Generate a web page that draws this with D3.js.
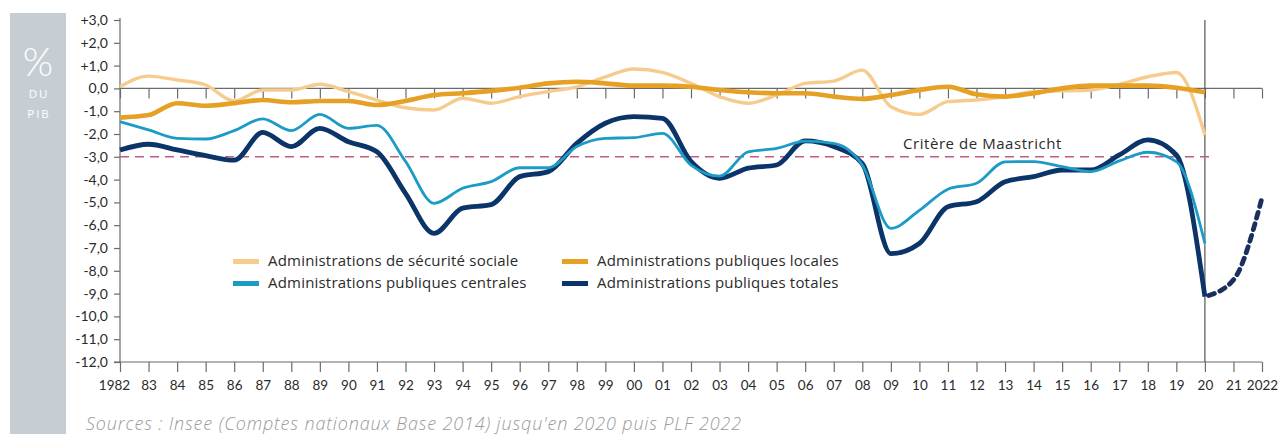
<!DOCTYPE html>
<html>
<head>
<meta charset="utf-8">
<script src="https://cdn.jsdelivr.net/npm/d3@7"></script>
<style>
  html, body { margin: 0; padding: 0; background: #fff; }
  svg { display: block; font-family: Lato, "Open Sans", sans-serif; }
</style>
</head>
<body>
<div id="chart"></div>
<script>
// --- Data (solde en % du PIB) ---
const years = [1982, 1983, 1984, 1985, 1986, 1987, 1988, 1989, 1990, 1991,
               1992, 1993, 1994, 1995, 1996, 1997, 1998, 1999, 2000, 2001,
               2002, 2003, 2004, 2005, 2006, 2007, 2008, 2009, 2010, 2011,
               2012, 2013, 2014, 2015, 2016, 2017, 2018, 2019, 2020];

const secuSociale = [0.07, 0.54, 0.37, 0.15, -0.55, -0.07, -0.07, 0.18, -0.14, -0.51,
                     -0.85, -0.95, -0.43, -0.65, -0.36, -0.14, 0.07, 0.51, 0.85, 0.7,
                     0.22, -0.36, -0.65, -0.29, 0.22, 0.32, 0.8, -0.8, -1.14, -0.58,
                     -0.51, -0.36, -0.14, -0.11, -0.07, 0.18, 0.51, 0.7, -2.04];

const locales = [-1.28, -1.17, -0.65, -0.76, -0.65, -0.51, -0.61, -0.55, -0.55, -0.73,
                 -0.55, -0.29, -0.21, -0.11, 0.03, 0.22, 0.29, 0.22, 0.12, 0.12,
                 0.07, -0.07, -0.17, -0.21, -0.21, -0.36, -0.46, -0.29, -0.07, 0.07,
                 -0.26, -0.36, -0.21, 0.0, 0.12, 0.12, 0.12, 0.03, -0.17];

const centrales = [-1.46, -1.82, -2.19, -2.22, -1.85, -1.34, -1.85, -1.14, -1.75, -1.62,
                   -3.2, -5.04, -4.38, -4.09, -3.48, -3.48, -2.55, -2.19, -2.16, -1.97,
                   -3.36, -3.85, -2.78, -2.63, -2.31, -2.41, -3.36, -6.14, -5.35, -4.42,
                   -4.16, -3.22, -3.21, -3.43, -3.65, -3.18, -2.8, -3.21, -6.8];

const totales = [-2.7, -2.45, -2.7, -2.95, -3.15, -1.93, -2.55, -1.75, -2.34, -2.78,
                 -4.6, -6.36, -5.25, -5.1, -3.87, -3.65, -2.41, -1.53, -1.24, -1.31,
                 -3.2, -3.94, -3.5, -3.36, -2.3, -2.55, -3.3, -7.25, -6.8, -5.19,
                 -4.97, -4.09, -3.87, -3.58, -3.58, -2.92, -2.26, -2.92, -9.13];

// prévision PLF 2022
const projYears = [2020, 2021, 2022];
const projTotales = [-9.13, -8.4, -4.8];

const maastricht = -3;

const yTicks = [3, 2, 1, 0, -1, -2, -3, -4, -5, -6, -7, -8, -9, -10, -11, -12];
const yTickLabels = ["+3,0", "+2,0", "+1,0", "0,0", "-1,0", "-2,0", "-3,0", "-4,0", "-5,0",
                     "-6,0", "-7,0", "-8,0", "-9,0", "-10,0", "-11,0", "-12,0"];
const xTicks = [1982, 1983, 1984, 1985, 1986, 1987, 1988, 1989, 1990, 1991, 1992, 1993, 1994,
                1995, 1996, 1997, 1998, 1999, 2000, 2001, 2002, 2003, 2004, 2005, 2006, 2007,
                2008, 2009, 2010, 2011, 2012, 2013, 2014, 2015, 2016, 2017, 2018, 2019, 2020,
                2021, 2022];
const xTickLabels = ["1982", "83", "84", "85", "86", "87", "88", "89", "90", "91", "92", "93",
                     "94", "95", "96", "97", "98", "99", "00", "01", "02", "03", "04", "05",
                     "06", "07", "08", "09", "10", "11", "12", "13", "14", "15", "16", "17",
                     "18", "19", "20", "21", "2022"];

const seriesNames = ["Administrations de sécurité sociale", "Administrations publiques locales",
                     "Administrations publiques centrales", "Administrations publiques totales"];

// --- Setup ---
const width = 1284, height = 434;
const svg = d3.select("#chart").append("svg")
    .attr("width", width)
    .attr("height", height);

const x = d3.scaleLinear().domain([1982, 2022]).range([120, 1262]);
const y = d3.scaleLinear().domain([3, -12]).range([20, 362]);

const colors = {
    secu: "#f6cb8e",
    locales: "#e6a024",
    centrales: "#1c9bc6",
    totales: "#0b3468"
};
const textFont = "'Open Sans', Lato, sans-serif";

// --- Left grey band "% du PIB" ---
svg.append("rect")
    .attr("x", 10).attr("y", 13)
    .attr("width", 56).attr("height", height - 13)
    .attr("fill", "#c6ced4");

svg.append("text")
    .attr("x", 38).attr("y", 76)
    .attr("text-anchor", "middle")
    .attr("fill", "#fff")
    .style("font-size", "39px")
    .style("font-weight", 300)
    .text("%");

svg.append("text")
    .attr("x", 39).attr("y", 98)
    .attr("text-anchor", "middle")
    .attr("fill", "#fff")
    .style("font-family", textFont)
    .style("font-size", "11.5px")
    .style("letter-spacing", "2px")
    .text("DU");

svg.append("text")
    .attr("x", 39).attr("y", 118)
    .attr("text-anchor", "middle")
    .attr("fill", "#fff")
    .style("font-family", textFont)
    .style("font-size", "11.5px")
    .style("letter-spacing", "2px")
    .text("PIB");

// --- Axes ---
const axisColor = "#6b6b6b";

const yAxis = svg.append("g")
    .attr("transform", `translate(${x(1982)},0)`)
    .call(d3.axisLeft(y).tickValues(yTicks).tickSize(6).tickPadding(6)
        .tickFormat((d, i) => yTickLabels[i]));

const xAxis = svg.append("g")
    .attr("transform", `translate(0,${y(-12)})`)
    .call(d3.axisBottom(x).tickValues(xTicks).tickSize(10).tickPadding(8)
        .tickFormat((d, i) => xTickLabels[i]));

// zero line with its own ticks
const zeroAxis = svg.append("g")
    .attr("transform", `translate(0,${y(0)})`)
    .call(d3.axisBottom(x).tickValues(xTicks).tickSize(10).tickFormat(""));

[yAxis, xAxis, zeroAxis].forEach(a => {
    a.select(".domain").attr("stroke", axisColor).attr("stroke-width", 1.2);
    a.selectAll(".tick line").attr("stroke", axisColor).attr("stroke-width", 1.2);
    a.selectAll(".tick text")
        .attr("fill", "#2b2b2b")
        .style("font-family", "Lato, 'Open Sans', sans-serif")
        .style("font-size", "13.5px");
});
yAxis.selectAll(".tick text").style("font-size", "14px");
yAxis.select(".domain").attr("d", `M-0,${y(3) - 2}V${y(-12)}`);
xAxis.select(".domain").attr("d", `M${x(1982) - 6},0H${x(2022)}`);
zeroAxis.select(".domain").attr("d", `M${x(1982)},0H${x(2022)}`);
xAxis.selectAll(".tick text").filter(d => d === 1982).attr("dx", -6);

// vertical 2020 marker
svg.append("line")
    .attr("x1", x(2020)).attr("x2", x(2020))
    .attr("y1", y(3)).attr("y2", y(-12))
    .attr("stroke", "#555").attr("stroke-width", 1.2);

// --- Critère de Maastricht ---
svg.append("line")
    .attr("x1", x(1982)).attr("x2", x(2020) + 10)
    .attr("y1", y(maastricht)).attr("y2", y(maastricht))
    .attr("stroke", "#c45b82")
    .attr("stroke-width", 1.6)
    .attr("stroke-dasharray", "9,6");

svg.append("text")
    .attr("x", 903).attr("y", y(maastricht) - 8)
    .attr("fill", "#2b2b2b")
    .style("font-family", textFont)
    .style("font-size", "15px")
    .style("letter-spacing", "0.55px")
    .text("Critère de Maastricht");

// --- Lines ---
const line = d3.line()
    .x(d => x(d[0]))
    .y(d => y(d[1]))
    .curve(d3.curveMonotoneX);

const toPairs = vals => years.map((yr, i) => [yr, vals[i]]);

svg.append("path")
    .datum(toPairs(secuSociale))
    .attr("fill", "none")
    .attr("stroke", colors.secu)
    .attr("stroke-width", 3.4)
    .attr("d", line);

svg.append("path")
    .datum(toPairs(locales))
    .attr("fill", "none")
    .attr("stroke", colors.locales)
    .attr("stroke-width", 4.6)
    .attr("d", line);

svg.append("path")
    .datum(toPairs(totales))
    .attr("fill", "none")
    .attr("stroke", colors.totales)
    .attr("stroke-width", 4.8)
    .attr("stroke-linejoin", "round")
    .attr("d", line);

svg.append("path")
    .datum(toPairs(centrales))
    .attr("fill", "none")
    .attr("stroke", colors.centrales)
    .attr("stroke-width", 2.8)
    .attr("d", line);

// projection (pointillés)
svg.append("path")
    .datum(projYears.map((yr, i) => [yr, projTotales[i]]))
    .attr("fill", "none")
    .attr("stroke", "#1b2f5e")
    .attr("stroke-width", 4.8)
    .attr("stroke-linecap", "round")
    .attr("stroke-dasharray", "6,6")
    .attr("stroke-dashoffset", -4)
    .attr("d", line);

// --- Legend ---
const legendItems = [
    { name: seriesNames[0], color: colors.secu, x: 233, y: 261 },
    { name: seriesNames[1], color: colors.locales, x: 562, y: 261 },
    { name: seriesNames[2], color: colors.centrales, x: 233, y: 283 },
    { name: seriesNames[3], color: colors.totales, x: 562, y: 283 }
];

const legend = svg.append("g").selectAll("g")
    .data(legendItems)
    .enter()
    .append("g")
    .attr("transform", d => `translate(${d.x},${d.y})`);

legend.append("rect")
    .attr("x", 0).attr("y", -2)
    .attr("width", 26).attr("height", 5)
    .attr("fill", d => d.color);

legend.append("text")
    .attr("x", 35).attr("y", 0)
    .attr("dy", "0.35em")
    .attr("fill", "#2b2b2b")
    .style("font-family", textFont)
    .style("font-size", "15px")
    .style("letter-spacing", "0.2px")
    .text(d => d.name);

// --- Source ---
svg.append("text")
    .attr("x", 86).attr("y", 430)
    .attr("fill", "#9a9a9a")
    .style("font-family", textFont)
    .style("font-size", "18px")
    .style("font-style", "italic")
    .style("font-weight", 300)
    .style("letter-spacing", "0.85px")
    .text("Sources : Insee (Comptes nationaux Base 2014) jusqu'en 2020 puis PLF 2022");
</script>
</body>
</html>
